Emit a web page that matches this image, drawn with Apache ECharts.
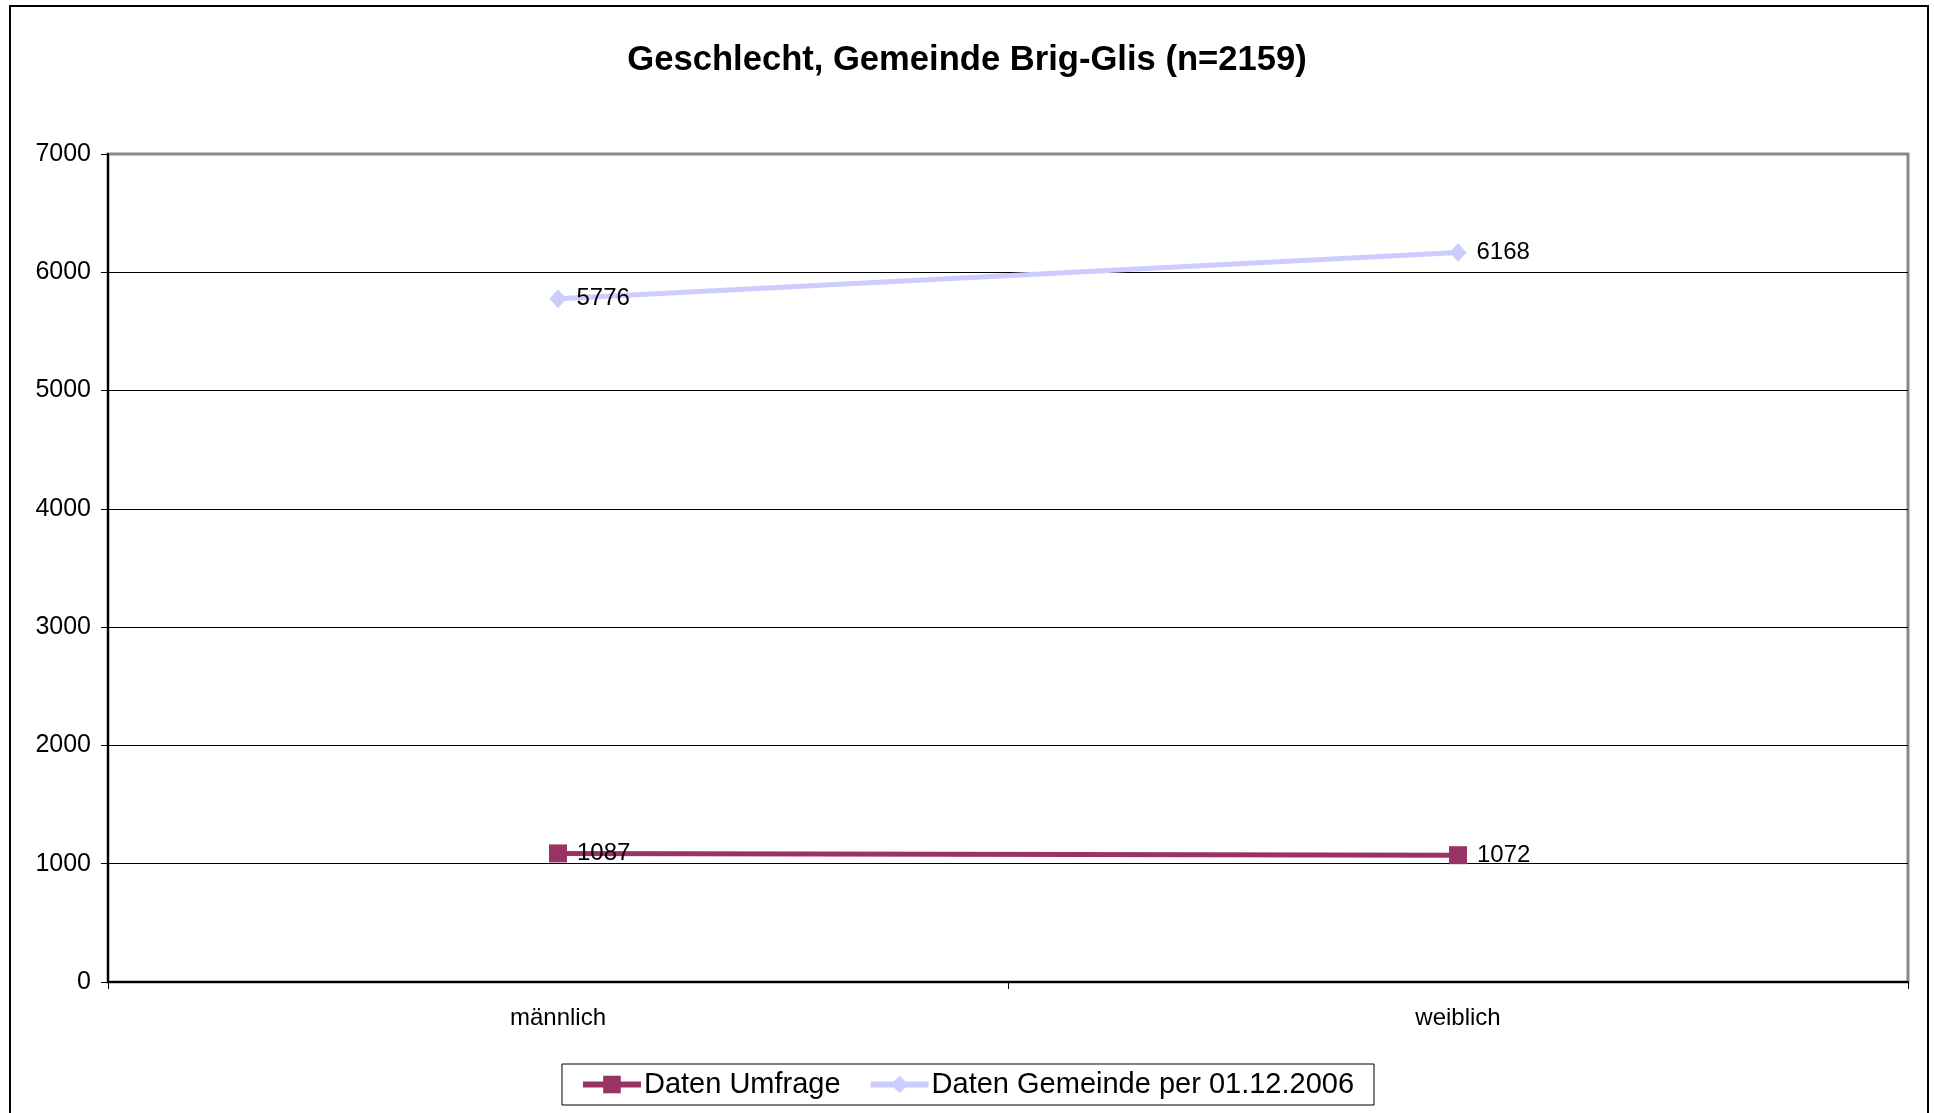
<!DOCTYPE html>
<html>
<head>
<meta charset="utf-8">
<script src="https://cdn.jsdelivr.net/npm/echarts@6/dist/echarts.min.js"></script>
<style>
html,body{margin:0;padding:0;background:#fff;}
#chart{width:1934px;height:1113px;}
</style>
</head>
<body>
<div id="chart"></div>
<script>
const categories = ['männlich', 'weiblich'];
const umfrage = [1087, 1072];
const gemeinde = [5776, 6168];
const seriesNames = ['Daten Umfrage', 'Daten Gemeinde per 01.12.2006'];
const titleText = 'Geschlecht, Gemeinde Brig-Glis (n=2159)';

const FONT = '"Liberation Sans", Arial, sans-serif';
const chart = echarts.init(document.getElementById('chart'), null, {renderer: 'canvas'});
chart.setOption({
  backgroundColor: '#ffffff',
  animation: false,
  title: {
    text: titleText,
    left: 'center',
    top: 38,
    textStyle: {fontFamily: FONT, fontSize: 34.6, fontWeight: 'bold', color: '#000'}
  },
  graphic: [{
    type: 'rect',
    shape: {x: 10, y: 6, width: 1918, height: 1130},
    style: {fill: 'none', stroke: '#000', lineWidth: 2},
    silent: true, z: 0
  }],
  grid: {
    left: 108, right: 26, top: 154, bottom: 131,
    show: true, borderColor: '#888888', borderWidth: 3, backgroundColor: 'transparent'
  },
  legend: {
    data: seriesNames,
    left: 'center',
    top: 1064,
    orient: 'horizontal',
    borderColor: '#000',
    borderWidth: 1,
    padding: [6, 20, 6, 18],
    itemGap: 27,
    itemWidth: 58,
    itemHeight: 22,
    lineStyle: {width: 6},
    textStyle: {fontFamily: FONT, fontSize: 29, color: '#000', padding: [0, 0, 0, -2]}
  },
  xAxis: {
    type: 'category',
    data: categories,
    boundaryGap: true,
    axisLine: {show: true, lineStyle: {color: '#000', width: 2}},
    axisTick: {show: true, length: 7, inside: false, lineStyle: {color: '#000', width: 1}},
    axisLabel: {fontFamily: FONT, fontSize: 24, color: '#000', margin: 24},
    splitLine: {show: false}
  },
  yAxis: {
    type: 'value',
    min: 0, max: 7000, interval: 1000,
    axisLine: {show: true, lineStyle: {color: '#000', width: 2}},
    axisTick: {show: true, length: 7, lineStyle: {color: '#000', width: 1}},
    axisLabel: {fontFamily: FONT, fontSize: 25, color: '#000', margin: 17, formatter: v => String(v)},
    splitLine: {show: true, showMaxLine: false, showMinLine: false, lineStyle: {color: '#000', width: 1}}
  },
  series: [
    {
      name: seriesNames[0],
      type: 'line',
      data: umfrage,
      symbol: 'rect',
      symbolSize: 18,
      lineStyle: {color: '#993366', width: 5},
      itemStyle: {color: '#993366'},
      label: {show: true, position: 'right', distance: 10, fontFamily: FONT, fontSize: 24, color: '#000'},
      z: 3
    },
    {
      name: seriesNames[1],
      type: 'line',
      data: gemeinde,
      symbol: 'diamond',
      symbolSize: [17, 19],
      lineStyle: {color: '#CCCCFF', width: 5},
      itemStyle: {color: '#CCCCFF'},
      label: {show: true, position: 'right', distance: 10, fontFamily: FONT, fontSize: 24, color: '#000'},
      z: 2
    }
  ]
});
</script>
</body>
</html>
